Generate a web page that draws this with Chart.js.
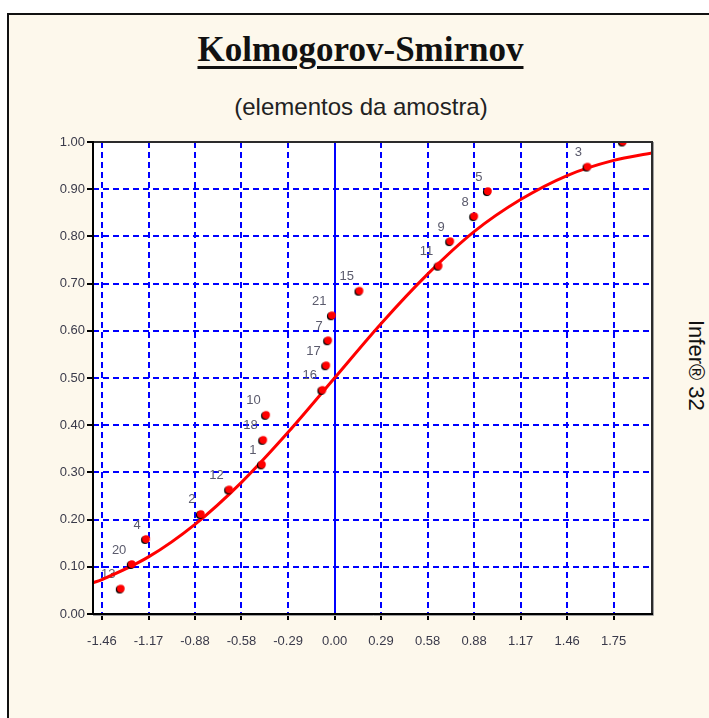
<!DOCTYPE html>
<html>
<head>
<meta charset="utf-8">
<script src="https://cdn.jsdelivr.net/npm/chart.js@4.4.1/dist/chart.umd.min.js"></script>
<style>
html,body{margin:0;padding:0;background:#ffffff;overflow:hidden;width:709px;height:718px;}
#frame{position:absolute;left:7px;top:13px;width:820px;height:820px;border-left:2px solid #111;border-top:2px solid #111;background:#fdf8ec;}
#c{position:absolute;left:0;top:0;}
#title{position:absolute;left:0;width:721px;top:32px;text-align:center;font-family:'Liberation Serif','Times New Roman',serif;font-weight:bold;font-size:35px;line-height:35px;text-decoration:underline;text-decoration-thickness:3px;text-underline-offset:5px;color:#111;white-space:nowrap;}
#subtitle{position:absolute;left:0;width:722px;top:95px;text-align:center;font-family:'Liberation Sans',Arial,sans-serif;font-size:24px;line-height:24px;color:#222;white-space:nowrap;}
#side{position:absolute;left:707px;top:320px;transform:rotate(90deg);transform-origin:0 0;font-family:'Liberation Sans',Arial,sans-serif;font-size:22px;line-height:22px;color:#111;white-space:nowrap;}
</style>
</head>
<body>
<div id="frame"></div>
<div id="title">Kolmogorov-Smirnov</div>
<div id="subtitle">(elementos da amostra)</div>
<div id="side">Infer® 32</div>
<canvas id="c" width="709" height="718"></canvas>
<script>
// ---- data ----
const xTickValues = [-1.462, -1.169, -0.877, -0.585, -0.292, 0, 0.292, 0.585, 0.877, 1.169, 1.462, 1.754];
const xTickLabels = ['-1.46', '-1.17', '-0.88', '-0.58', '-0.29', '0.00', '0.29', '0.58', '0.88', '1.17', '1.46', '1.75'];
const yTickValues = [0, 0.1, 0.2, 0.3, 0.4, 0.5, 0.6, 0.7, 0.8, 0.9, 1.0];
const yTickLabels = ['0.00', '0.10', '0.20', '0.30', '0.40', '0.50', '0.60', '0.70', '0.80', '0.90', '1.00'];

const sampleLabels = ['13', '20', '4', '2', '12', '1', '18', '10', '16', '17', '7', '21', '15', '11', '9', '8', '5', '3', ''];
const sampleX = [-1.346, -1.277, -1.187, -0.843, -0.665, -0.459, -0.451, -0.433, -0.079, -0.055, -0.043, -0.019, 0.154, 0.651, 0.724, 0.875, 0.961, 1.587, 1.810];
const sampleY = [0.053, 0.105, 0.158, 0.211, 0.263, 0.316, 0.368, 0.421, 0.474, 0.526, 0.579, 0.632, 0.684, 0.737, 0.789, 0.842, 0.895, 0.947, 1.000];

const curveX = [-1.518, -1.462, -1.169, -0.877, -0.585, -0.292, 0, 0.292, 0.585, 0.877, 1.169, 1.462, 1.754, 1.995];
const curveY = [0.066, 0.073, 0.121, 0.190, 0.279, 0.385, 0.500, 0.615, 0.720, 0.810, 0.878, 0.929, 0.961, 0.977];

const xMin = -1.518, xMax = 1.995;

// ---- marker style ----
function makeMarker() {
  const c = document.createElement('canvas');
  c.width = 11; c.height = 11;
  const g = c.getContext('2d');
  g.fillStyle = '#000';
  g.beginPath(); g.arc(4.9, 6.1, 4.0, 0, Math.PI * 2); g.fill();
  g.fillStyle = '#ff0000';
  g.beginPath(); g.arc(5.9, 5.1, 3.9, 0, Math.PI * 2); g.fill();
  return c;
}

const TICK_FONT = { family: "'Liberation Sans', Arial, sans-serif", size: 13 };
const TICK_COLOR = '#3a3a4a';

const decor = {
  id: 'decor',
  beforeDraw(chart) {
    const { ctx, chartArea: a } = chart;
    ctx.save();
    ctx.fillStyle = '#ffffff';
    ctx.fillRect(a.left, a.top, a.right - a.left, a.bottom - a.top);
    ctx.restore();
  },
  beforeDatasetsDraw(chart) {
    const { ctx, chartArea: a } = chart;
    const xs = chart.scales.x;
    ctx.save();
    const zx = Math.round(xs.getPixelForValue(0));
    ctx.strokeStyle = '#0000ff';
    ctx.lineWidth = 2;
    ctx.beginPath(); ctx.moveTo(zx, a.top); ctx.lineTo(zx, a.bottom); ctx.stroke();
    ctx.beginPath(); ctx.rect(a.left, a.top, a.right - a.left, a.bottom - a.top); ctx.clip();
    ctx.font = "13px 'Liberation Sans', Arial, sans-serif";
    ctx.fillStyle = '#5a5a6c';
    ctx.textAlign = 'right';
    ctx.textBaseline = 'middle';
    const meta = chart.getDatasetMeta(0);
    meta.data.forEach((p, i) => {
      const t = sampleLabels[i];
      if (t) ctx.fillText(t, p.x - 5, p.y - 14.5);
    });
    ctx.restore();
  },
  afterDatasetsDraw(chart) {
    const { ctx, chartArea: a } = chart;
    ctx.save();
    ctx.lineWidth = 2;
    ctx.strokeStyle = '#2b2b2b';
    ctx.beginPath();
    ctx.moveTo(a.left, a.top); ctx.lineTo(a.right, a.top); ctx.lineTo(a.right, a.bottom);
    ctx.stroke();
    ctx.strokeStyle = '#000';
    ctx.beginPath();
    ctx.moveTo(a.left, a.top - 1); ctx.lineTo(a.left, a.bottom); ctx.lineTo(a.right + 1, a.bottom);
    ctx.stroke();
    ctx.strokeStyle = '#a0a0a0';
    ctx.lineWidth = 1;
    ctx.beginPath();
    ctx.moveTo(a.right + 1.5, a.top); ctx.lineTo(a.right + 1.5, a.bottom + 1.5); ctx.lineTo(a.left, a.bottom + 1.5);
    ctx.stroke();
    ctx.restore();
  }
};

const gridCommon = {
  color: '#0000ff',
  lineWidth: 2,
  drawTicks: true,
  tickLength: 6,
  tickColor: '#000000',
  tickWidth: 2,
  tickBorderDash: []
};

new Chart(document.getElementById('c'), {
  type: 'scatter',
  data: {
    datasets: [
      {
        type: 'scatter',
        data: sampleX.map((x, i) => ({ x: x, y: sampleY[i] })),
        pointStyle: makeMarker(),
        pointRadius: 5,
        pointHoverRadius: 5,
        showLine: false
      },
      {
        type: 'line',
        data: curveX.map((x, i) => ({ x: x, y: curveY[i] })),
        borderColor: '#ff0000',
        borderWidth: 3,
        pointRadius: 0,
        fill: false,
        cubicInterpolationMode: 'monotone'
      }
    ]
  },
  options: {
    responsive: false,
    animation: false,
    events: [],
    devicePixelRatio: 1,
    layout: { padding: { left: 0, top: 142, right: 57, bottom: 0 } },
    plugins: { legend: { display: false }, tooltip: { enabled: false }, title: { display: false } },
    scales: {
      x: {
        type: 'linear',
        min: xMin,
        max: xMax,
        afterBuildTicks: s => { s.ticks = xTickValues.map(v => ({ value: v })); },
        afterFit: s => { s.height = 104; },
        ticks: {
          autoSkip: false,
          maxRotation: 0,
          padding: 14,
          font: TICK_FONT,
          color: TICK_COLOR,
          callback: (v, i) => xTickLabels[i]
        },
        grid: gridCommon,
        border: { display: false, dash: [6, 4] }
      },
      y: {
        type: 'linear',
        min: 0,
        max: 1,
        afterBuildTicks: s => { s.ticks = yTickValues.map(v => ({ value: v })); },
        afterFit: s => { s.width = 93; },
        ticks: {
          autoSkip: false,
          padding: 2,
          font: TICK_FONT,
          color: TICK_COLOR,
          callback: (v, i) => yTickLabels[i]
        },
        grid: gridCommon,
        border: { display: false, dash: [6, 4] }
      }
    }
  },
  plugins: [decor]
});
</script>
</body>
</html>
